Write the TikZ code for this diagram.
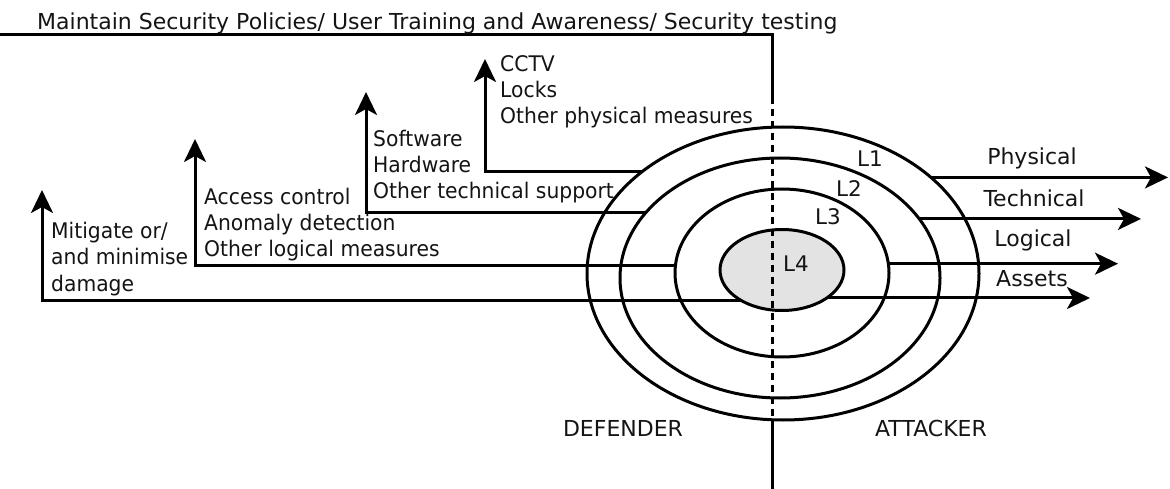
\documentclass[tikz,border=0pt]{standalone}
\usepackage{fontspec}
\setmainfont{DejaVu Sans}
\newfontfamily\condfont[FakeStretch=0.944]{DejaVu Sans}
\usetikzlibrary{arrows.meta,shapes.geometric}
\begin{document}
\begin{tikzpicture}[x=1pt,y=-1pt,
  lbl/.style={inner sep=0,anchor=base west,font=\condfont\fontsize{21.5}{26}\selectfont,text=black!92},
  tlbl/.style={inner sep=0,anchor=base west,font=\fontsize{22}{26}\selectfont,text=black!92},
  clbl/.style={inner sep=0,anchor=base,font=\fontsize{22}{26}\selectfont,text=black!92},
  llbl/.style={inner sep=0,anchor=base,font=\fontsize{21.5}{26}\selectfont,text=black!92},
  ring/.style={draw,ellipse,line width=3pt,inner sep=0,outer sep=0},
  conn/.style={line width=3pt},
  arr/.style={conn,-{Stealth[length=23pt,width=22pt,inset=6pt]}},
  divider/.style={line width=3pt,dash pattern=on 7pt off 5pt}
]
\useasboundingbox (0,0) rectangle (1170,489);

% rings
\node[ring,minimum width=392pt,minimum height=293pt] (e1) at (783,273.5) {};
\node[ring,minimum width=320pt,minimum height=240pt] (e2) at (780,278) {};
\node[ring,minimum width=214pt,minimum height=168pt] (e3) at (782,273) {};
\node[ring,fill=black!11,minimum width=124pt,minimum height=81pt] (e4) at (782,270) {};

% top policy line and divider
\coordinate (tl) at (0,35);
\coordinate (tr) at (772,35);
\coordinate (d1) at (772,97);
\coordinate (d2) at (772,420);
\coordinate (bot) at (772,489);
\draw[conn] (tl) -- (tr) -- (d1);
\draw[divider] (d1) -- (d2);
\draw[conn] (d2) -- (bot);
\node[tlbl] (policy) at (37,30) {Maintain Security Policies/ User Training and Awareness/ Security testing};

% defender arrows
\coordinate (t1) at (485,59);
\coordinate (t2) at (366,92);
\coordinate (t3) at (195,139);
\coordinate (t4) at (42,190);
\draw[arr] (e1.144) -| (t1);
\draw[arr] (e2.154) -| (t2);
\draw[arr] (e3.176) -| (t3);
\draw[arr] (e4.216) -| (t4);

% attacker arrows
\coordinate (p1) at (1168,0);
\coordinate (p2) at (1141,0);
\coordinate (p3) at (1118,0);
\coordinate (p4) at (1090,0);
\draw[arr] (e1.33) -- (e1.33 -| p1);
\draw[arr] (e2.23) -- (e2.23 -| p2);
\draw[arr] (e3.5) -- (e3.5 -| p3);
\draw[arr] (e4.328) -- (e4.328 -| p4);

% defender texts
\node[lbl] (c1) at (500,72) {CCTV};
\node[lbl] (c2) at (500,98) {Locks};
\node[lbl] (c3) at (500,124) {Other physical measures};
\node[lbl] (s1) at (373,147) {Software};
\node[lbl] (s2) at (373,173) {Hardware};
\node[lbl] (s3) at (373,199) {Other technical support};
\node[lbl] (a1) at (204,205) {Access control};
\node[lbl] (a2) at (204,231) {Anomaly detection};
\node[lbl] (a3) at (204,257) {Other logical measures};
\node[lbl] (m1) at (51,239) {Mitigate or/};
\node[lbl] (m2) at (51,265) {and minimise};
\node[lbl] (m3) at (51,291) {damage};

% attacker texts
\node[clbl] (phys) at (1032,165) {Physical};
\node[clbl] (tech) at (1034,207) {Technical};
\node[clbl] (logi) at (1033,247) {Logical};
\node[clbl] (asse) at (1032,286) {Assets};

% level labels
\node[llbl] (l1) at (870,167) {L1};
\node[llbl] (l2) at (849,197) {L2};
\node[llbl] (l3) at (828,225) {L3};
\node[llbl] (l4) at (796,271) {L4};

\node[clbl] (def) at (623,436) {DEFENDER};
\node[clbl] (att) at (931,436) {ATTACKER};
\end{tikzpicture}
\end{document}
